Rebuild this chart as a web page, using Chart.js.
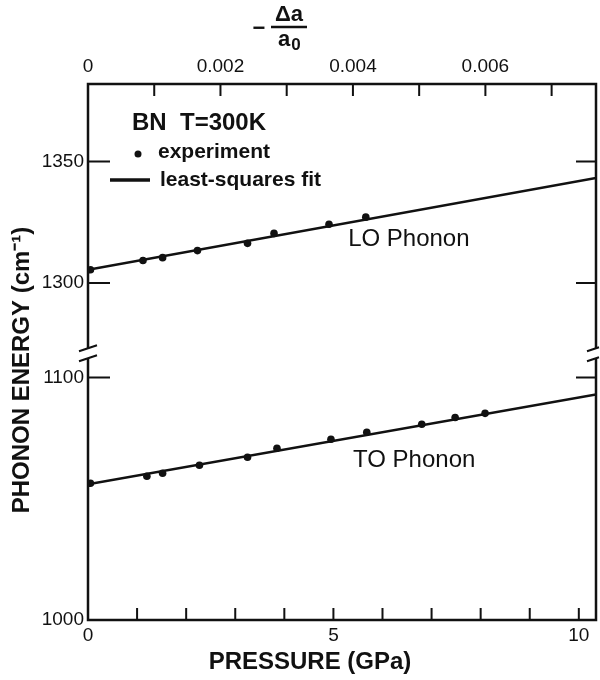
<!DOCTYPE html>
<html>
<head>
<meta charset="utf-8">
<title>BN phonon energy vs pressure</title>
<script src="https://cdn.jsdelivr.net/npm/chart.js@4.4.1/dist/chart.umd.min.js"></script>
<style>
  html, body { margin: 0; padding: 0; background: #fff; }
  #wrap { width: 600px; height: 680px; }
</style>
</head>
<body>
<div id="wrap"><canvas id="phonon"></canvas></div>
<script>
// cubic BN at 300 K: Raman LO / TO lines, pressure in GPa, energy in cm-1
const loPressure = [0.05, 1.12, 1.52, 2.23, 3.25, 3.79, 4.91, 5.66];
const loEnergy   = [1305.4, 1309.2, 1310.4, 1313.3, 1316.3, 1320.4, 1324.2, 1327.1];
const toPressure = [0.05, 1.20, 1.52, 2.27, 3.25, 3.85, 4.95, 5.68, 6.80, 7.48, 8.09];
const toEnergy   = [1056.4, 1059.3, 1060.5, 1063.8, 1067.1, 1070.8, 1074.5, 1077.4, 1080.7, 1083.5, 1085.2];

// least-squares lines, taken at both ends of the pressure range
const fitPressure = [0, 10.35];
const loFit = [1305.4, 1343.3];
const toFit = [1056.0, 1093.0];

// axis ticks
const pressureTicks = [0, 1, 2, 3, 4, 5, 6, 7, 8, 9, 10];
const strainTicks = [0, 0.001, 0.002, 0.003, 0.004, 0.005, 0.006, 0.007];
const strainLabels = ['0', '', '0.002', '', '0.004', '', '0.006', ''];
const lowTicks = [1000, 1100];
const highTicks = [1300, 1350];

const ink = '#111';
const face = "'Liberation Sans', Arial, sans-serif";

const pts = (xs, ys) => xs.map((x, i) => ({ x: x, y: ys[i] }));
const setTicks = list => axis => { axis.ticks = list.map(v => ({ value: v })); };

// frame with the energy break, inward ticks and the lettering
const frame = {
  id: 'frame',
  afterDraw(chart) {
    const ctx = chart.ctx;
    const a = chart.chartArea;
    const s = chart.scales;
    const brk = s.yLow.top;
    ctx.save();
    ctx.strokeStyle = ink;
    ctx.fillStyle = ink;
    ctx.lineWidth = 2.5;

    ctx.beginPath();
    ctx.moveTo(a.left, brk - 5); ctx.lineTo(a.left, a.top);
    ctx.lineTo(a.right, a.top); ctx.lineTo(a.right, brk - 5);
    ctx.moveTo(a.left, brk + 5); ctx.lineTo(a.left, a.bottom);
    ctx.lineTo(a.right, a.bottom); ctx.lineTo(a.right, brk + 5);
    ctx.stroke();

    // break marks
    ctx.lineWidth = 2;
    [brk - 5, brk + 5].forEach(y => {
      ctx.beginPath();
      ctx.moveTo(a.left - 9, y + 3); ctx.lineTo(a.left + 9, y - 3);
      ctx.moveTo(a.right - 9, y + 3); ctx.lineTo(a.right + 3, y - 1);
      ctx.stroke();
    });

    // ticks point into the plot
    ctx.lineWidth = 2;
    ctx.beginPath();
    [s.yLow, s.yHigh].forEach(ax => ax.ticks.forEach(t => {
      const y = ax.getPixelForValue(t.value);
      ctx.moveTo(a.left, y); ctx.lineTo(a.left + 22, y);
      ctx.moveTo(a.right - 20, y); ctx.lineTo(a.right, y);
    }));
    s.x.ticks.forEach(t => {
      const x = s.x.getPixelForValue(t.value);
      ctx.moveTo(x, a.bottom); ctx.lineTo(x, a.bottom - 12);
    });
    s.x2.ticks.forEach(t => {
      const x = s.x2.getPixelForValue(t.value);
      ctx.moveTo(x, a.top); ctx.lineTo(x, a.top + 12);
    });
    ctx.stroke();

    // key
    ctx.textBaseline = 'middle';
    ctx.textAlign = 'left';
    ctx.font = 'bold 24px ' + face;
    ctx.fillText('BN', a.left + 44, a.top + 39);
    ctx.fillText('T=300K', a.left + 92, a.top + 39);
    ctx.font = 'bold 21px ' + face;
    ctx.beginPath();
    ctx.arc(a.left + 50, a.top + 70, 3.5, 0, Math.PI * 2);
    ctx.fill();
    ctx.fillText('experiment', a.left + 70, a.top + 68);
    ctx.lineWidth = 3.5;
    ctx.beginPath();
    ctx.moveTo(a.left + 22, a.top + 96); ctx.lineTo(a.left + 62, a.top + 96);
    ctx.stroke();
    ctx.fillText('least-squares fit', a.left + 72, a.top + 96);

    // series names
    ctx.font = '24px ' + face;
    ctx.fillText('LO Phonon', s.x.getPixelForValue(5.3), s.yHigh.getPixelForValue(1318));
    ctx.fillText('TO Phonon', s.x.getPixelForValue(5.4), s.yLow.getPixelForValue(1066));

    // axis titles
    ctx.font = 'bold 24px ' + face;
    ctx.textAlign = 'center';
    ctx.fillText('PRESSURE (GPa)', 310, 662);
    ctx.save();
    ctx.translate(22, 370);
    ctx.rotate(-Math.PI / 2);
    ctx.fillText('PHONON ENERGY (cm\u207B\u00B9)', 0, 0);
    ctx.restore();

    // -Δa/a0 over the top axis
    ctx.font = 'bold 22px ' + face;
    ctx.fillText('\u2212', 259, 29);
    ctx.fillText('\u0394a', 289, 15);
    ctx.lineWidth = 2.5;
    ctx.beginPath();
    ctx.moveTo(271, 27); ctx.lineTo(307, 27);
    ctx.stroke();
    ctx.fillText('a', 284, 40);
    ctx.font = 'bold 17px ' + face;
    ctx.fillText('0', 296, 45);
    ctx.restore();
  }
};

const tickFont = { family: face, size: 19 };
const noGrid = { display: false, drawTicks: false };

new Chart(document.getElementById('phonon'), {
  type: 'scatter',
  data: {
    datasets: [
      { data: pts(loPressure, loEnergy), yAxisID: 'yHigh', xAxisID: 'x',
        pointRadius: 3.8, backgroundColor: ink, borderWidth: 0 },
      { data: pts(fitPressure, loFit), yAxisID: 'yHigh', xAxisID: 'x', showLine: true,
        pointRadius: 0, borderColor: ink, borderWidth: 2.5 },
      { data: pts(toPressure, toEnergy), yAxisID: 'yLow', xAxisID: 'x',
        pointRadius: 3.8, backgroundColor: ink, borderWidth: 0 },
      { data: pts(fitPressure, toFit), yAxisID: 'yLow', xAxisID: 'x', showLine: true,
        pointRadius: 0, borderColor: ink, borderWidth: 2.5 }
    ]
  },
  options: {
    responsive: true,
    maintainAspectRatio: false,
    animation: false,
    layout: { padding: { right: 1 } },
    plugins: { legend: { display: false }, tooltip: { enabled: false } },
    scales: {
      x: {
        type: 'linear', position: 'bottom', min: 0, max: 10.35,
        grid: noGrid, border: { display: false },
        afterBuildTicks: setTicks(pressureTicks),
        afterFit: sc => { sc.height = 60; },
        ticks: { autoSkip: false, maxRotation: 0, padding: 4, color: ink, font: tickFont,
                 callback: v => (v % 5 === 0 ? String(v) : '') }
      },
      x2: {
        type: 'linear', position: 'top', min: 0, max: 0.00767,
        grid: noGrid, border: { display: false },
        afterBuildTicks: setTicks(strainTicks),
        afterFit: sc => { sc.height = 84; },
        ticks: { autoSkip: false, maxRotation: 0, padding: 6, color: ink, font: tickFont,
                 callback: (v, i) => strainLabels[i] }
      },
      // the lower range is listed first so that it is stacked underneath
      yLow: {
        type: 'linear', position: 'left', stack: 'energy', stackWeight: 110,
        min: 1000, max: 1110,
        grid: noGrid, border: { display: false },
        afterBuildTicks: setTicks(lowTicks),
        afterFit: sc => { sc.width = 88; },
        ticks: { padding: 4, color: ink, font: tickFont, callback: v => String(v) }
      },
      yHigh: {
        type: 'linear', position: 'left', stack: 'energy', stackWeight: 111,
        min: 1271, max: 1382,
        grid: noGrid, border: { display: false },
        afterBuildTicks: setTicks(highTicks),
        afterFit: sc => { sc.width = 88; },
        ticks: { padding: 4, color: ink, font: tickFont, callback: v => String(v) }
      }
    }
  },
  plugins: [frame]
});
</script>
</body>
</html>
